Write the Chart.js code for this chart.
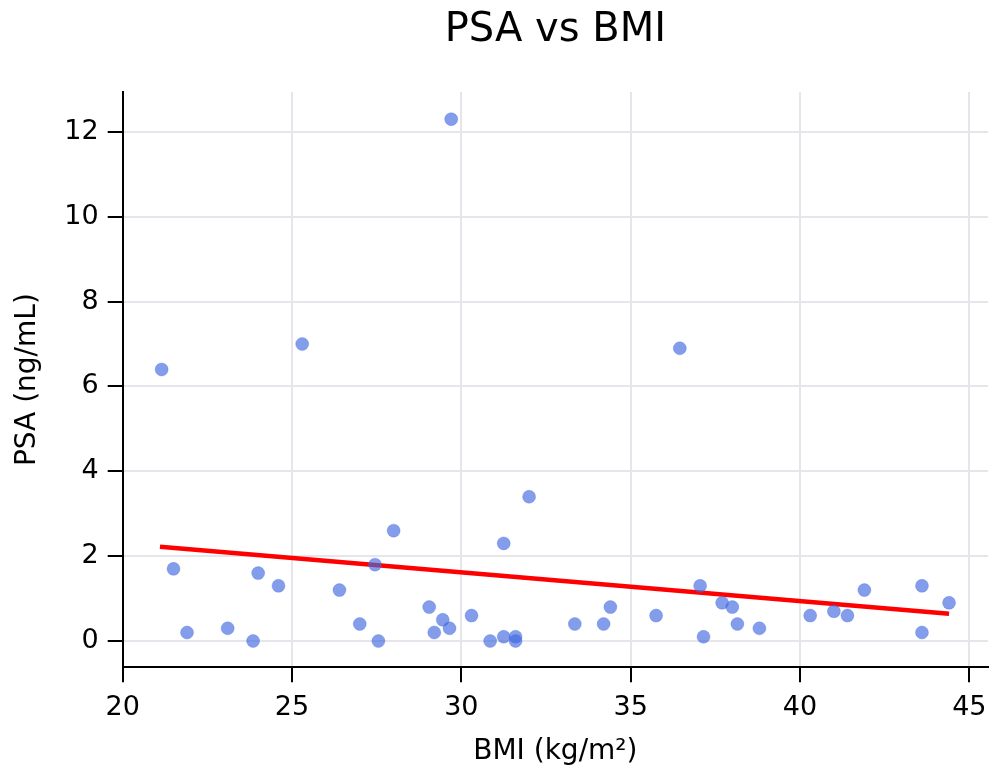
<!DOCTYPE html>
<html>
<head>
<meta charset="utf-8">
<script src="https://cdn.jsdelivr.net/npm/chart.js@4/dist/chart.umd.min.js"></script>
<style>
  html, body { margin: 0; padding: 0; background: #ffffff; }
  #wrap { width: 990px; height: 772px; }
</style>
</head>
<body>
<div id="wrap"><canvas id="c" width="990" height="772"></canvas></div>
<script>
// ---- data ----
const bmi = [21.15, 21.5, 21.9, 23.1, 23.85, 24.0, 24.6, 25.3, 26.4, 27.0, 27.45, 27.55, 28.0,
             29.05, 29.2, 29.45, 29.65, 29.7, 30.3, 30.85, 31.25, 31.25, 31.6, 31.6, 32.0,
             33.35, 34.2, 34.4, 35.75, 36.45, 37.05, 37.15, 37.7, 38.0, 38.15, 38.8,
             40.3, 41.0, 41.4, 41.9, 43.6, 43.6, 44.4];
const psa = [6.4, 1.7, 0.2, 0.3, 0.0, 1.6, 1.3, 7.0, 1.2, 0.4, 1.8, 0.0, 2.6,
             0.8, 0.2, 0.5, 0.3, 12.3, 0.6, 0.0, 2.3, 0.1, 0.1, 0.0, 3.4,
             0.4, 0.4, 0.8, 0.6, 6.9, 1.3, 0.1, 0.9, 0.8, 0.4, 0.3,
             0.6, 0.7, 0.6, 1.2, 1.3, 0.2, 0.9];
const trendBmi = [21.1, 44.4];
const trendPsa = [2.22, 0.64];
const xTicks = [20, 25, 30, 35, 40, 45];
const yTicks = [0, 2, 4, 6, 8, 10, 12];
const chartTitle = 'PSA vs BMI';
const xTitle = 'BMI (kg/m²)';
const yTitle = 'PSA (ng/mL)';

Chart.defaults.font.family = "'DejaVu Sans', sans-serif";
Chart.defaults.color = '#000000';

const ctx = document.getElementById('c').getContext('2d');
new Chart(ctx, {
  type: 'scatter',
  data: {
    datasets: [
      {
        label: 'Patients',
        data: bmi.map((x, i) => ({ x: x, y: psa[i] })),
        backgroundColor: 'rgba(65,105,225,0.65)',
        borderColor: 'rgba(65,105,225,0.3)',
        borderWidth: 1,
        pointRadius: 6.5,
        pointHoverRadius: 6.5,
        order: 1
      },
      {
        type: 'line',
        label: 'Trend',
        data: trendBmi.map((x, i) => ({ x: x, y: trendPsa[i] })),
        borderColor: '#ff0000',
        backgroundColor: '#ff0000',
        borderWidth: 4.5,
        pointRadius: 0,
        fill: false,
        order: 2
      }
    ]
  },
  options: {
    responsive: false,
    animation: false,
    devicePixelRatio: 1,
    layout: { autoPadding: false, padding: { left: 0, right: 2, top: 0, bottom: 0 } },
    plugins: {
      legend: { display: false },
      tooltip: { enabled: false },
      title: {
        display: true,
        fullSize: false,
        text: chartTitle,
        color: '#000000',
        font: { size: 40, weight: 'normal' },
        padding: { top: 7, bottom: 37 }
      }
    },
    scales: {
      x: {
        type: 'linear',
        min: 20,
        max: 45.55,
        afterBuildTicks: a => { a.ticks = xTicks.map(v => ({ value: v })); },
        afterFit: s => { s.height = 104.7; s.paddingLeft = 0; s.paddingRight = 0; },
        ticks: { font: { size: 27 }, padding: 9, color: '#000000', maxRotation: 0 },
        grid: { color: '#e5e5eb', lineWidth: 2, tickColor: '#000000', tickLength: 15, tickWidth: 2 },
        border: { color: '#000000', width: 2 },
        title: { display: true, text: xTitle, color: '#000000', font: { size: 28 }, padding: { top: 0, bottom: 3 } }
      },
      y: {
        type: 'linear',
        min: -0.62,
        max: 12.94,
        afterBuildTicks: a => { a.ticks = yTicks.map(v => ({ value: v })); },
        afterFit: s => { s.width = 122.7; },
        ticks: { font: { size: 27 }, padding: 9, color: '#000000' },
        grid: { color: '#e5e5eb', lineWidth: 2, tickColor: '#000000', tickLength: 15, tickWidth: 2 },
        border: { color: '#000000', width: 2 },
        title: { display: true, text: yTitle, color: '#000000', font: { size: 28 }, padding: { top: 11, bottom: 0 } }
      }
    }
  }
});
</script>
</body>
</html>
